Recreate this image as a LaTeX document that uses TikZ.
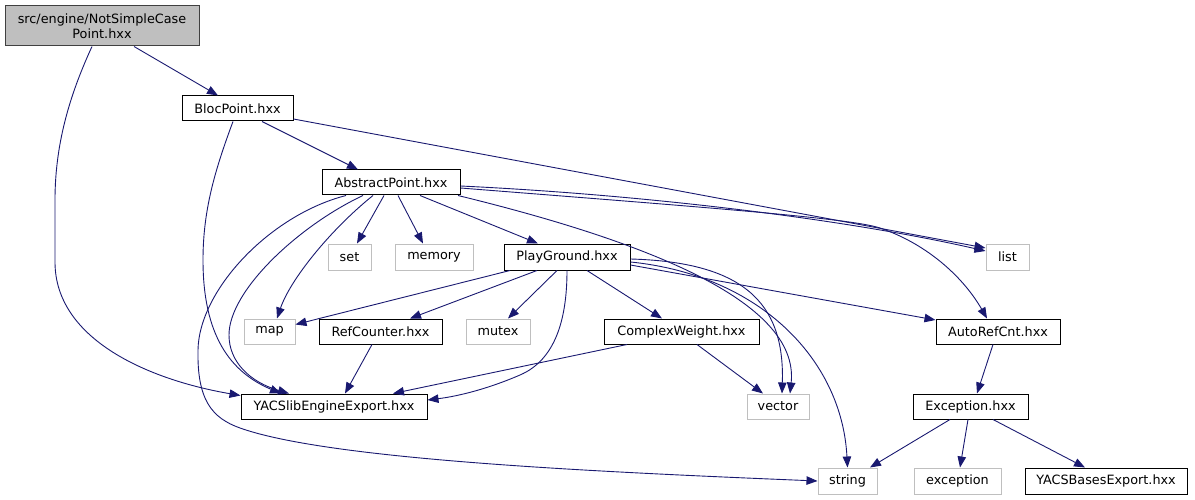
\documentclass[tikz,border=0pt]{standalone}
\usepackage{fontspec}
\setmainfont{DejaVu Sans}
\usetikzlibrary{arrows.meta}
\definecolor{edgeblue}{RGB}{25,25,112}
\definecolor{extgray}{RGB}{191,191,191}
\definecolor{rootborder}{RGB}{64,64,64}
\begin{document}
\begin{tikzpicture}[x=1pt,y=-1pt,
  box/.style={draw=black,line width=1pt,fill=white,inner sep=0pt,font=\fontsize{12.8}{14.5}\selectfont,anchor=center},
  extbox/.style={box,draw=extgray},
  rootbox/.style={box,draw=rootborder,fill=extgray,align=center},
  edge/.style={draw=edgeblue,line width=0.9pt,-{Triangle[length=11pt 0,width=8.5pt 0]}}]
\useasboundingbox (0,0) rectangle (1195,500);
% nodes
\node[rootbox,minimum width=194pt,minimum height=40pt] (nscp) at (102,26) {src/engine/NotSimpleCase\\Point.hxx};
\node[box,minimum width=111pt,minimum height=25pt] (bloc) at (237.5,108.5) {BlocPoint.hxx};
\node[box,minimum width=138pt,minimum height=25pt] (abs) at (391,182.5) {AbstractPoint.hxx};
\node[extbox,minimum width=43pt,minimum height=26pt] (set) at (349.5,257) {set};
\node[extbox,minimum width=78pt,minimum height=26pt] (memory) at (434,257) {memory};
\node[box,minimum width=126pt,minimum height=26pt] (play) at (567,257) {PlayGround.hxx};
\node[extbox,minimum width=43pt,minimum height=26pt] (list) at (1007.5,257) {list};
\node[extbox,minimum width=51pt,minimum height=25pt] (map) at (269.5,331.5) {map};
\node[box,minimum width=123pt,minimum height=25pt] (refc) at (380.5,331.5) {RefCounter.hxx};
\node[extbox,minimum width=64pt,minimum height=25pt] (mutex) at (498,331.5) {mutex};
\node[box,minimum width=155pt,minimum height=25pt] (cw) at (681.5,331.5) {ComplexWeight.hxx};
\node[box,minimum width=124pt,minimum height=25pt] (arc) at (998,331.5) {AutoRefCnt.hxx};
\node[box,minimum width=186pt,minimum height=25pt] (yacs) at (334,406.5) {YACSlibEngineExport.hxx};
\node[extbox,minimum width=62pt,minimum height=25pt] (vector) at (778,406.5) {vector};
\node[box,minimum width=115pt,minimum height=25pt] (exc) at (970.5,406.5) {Exception.hxx};
\node[extbox,minimum width=59pt,minimum height=26pt] (string) at (847.5,481) {string};
\node[extbox,minimum width=87pt,minimum height=26pt] (exception) at (957.5,481) {exception};
\node[box,minimum width=162pt,minimum height=26pt] (ybe) at (1106,481) {YACSBasesExport.hxx};
% edges
\draw[edge] ([xshift=32pt]nscp.south) -- ([xshift=-19.5pt]bloc.north);
\draw[edge] ([xshift=-10pt]nscp.south) .. controls (72,90) and (55,140) .. (55,200) -- (55,262) .. controls (55,340) and (150,380) .. ([yshift=-2pt]yacs.north west);
\draw[edge] ([xshift=24.5pt]bloc.south) -- ([xshift=-33pt]abs.north);
\draw[edge] ([xshift=-4.5pt]bloc.south) .. controls (215,170) and (203,210) .. (203,260) .. controls (203,335) and (230,372) .. ([xshift=-53pt]yacs.north);
\draw[edge] ([yshift=-10.5pt]bloc.east) -- ([yshift=9pt]list.west);
\draw[edge] ([xshift=-45pt]abs.south) .. controls (270,215) and (199,290) .. (198,350) .. controls (197,400) and (212,418) .. (240,428) .. controls (330,460) and (600,472) .. ([yshift=0pt]string.west);
\draw[edge] ([xshift=-28pt]abs.south) .. controls (300,225) and (229,290) .. (229,335) .. controls (229,362) and (250,382) .. ([xshift=-45pt]yacs.north);
\draw[edge] ([xshift=-18pt]abs.south) .. controls (330,230) and (290,280) .. ([xshift=7.5pt]map.north);
\draw[edge] ([xshift=-7pt]abs.south) -- ([xshift=7.5pt]set.north);
\draw[edge] ([xshift=7pt]abs.south) -- ([xshift=-11pt]memory.north);
\draw[edge] ([xshift=29pt]abs.south) -- ([xshift=-29pt]play.north);
\draw[edge] ([xshift=67pt]abs.south) .. controls (640,240) and (800,300) .. ([xshift=12pt]vector.north);
\draw[edge] ([yshift=-3.5pt]abs.east) .. controls (650,195) and (850,220) .. ([yshift=6pt]list.west);
\draw[edge] ([yshift=-5.5pt]abs.east) .. controls (700,207) and (850,218) .. (880,228) .. controls (930,245) and (965,280) .. ([xshift=-11pt]arc.north);
\draw[edge] ([xshift=-57pt]play.south) -- ([yshift=7pt]map.east);
\draw[edge] ([xshift=-30pt]play.south) -- ([xshift=29.5pt]refc.north);
\draw[edge] ([xshift=-10pt]play.south) -- ([xshift=10pt]mutex.north);
\draw[edge] ([xshift=20pt]play.south) -- ([xshift=-19.5pt]cw.north);
\draw[edge] (play.south) .. controls (567,320) and (555,360) .. (520,375) .. controls (490,388) and (460,396) .. ([yshift=6.5pt]yacs.east);
\draw[edge] ([yshift=-2pt]play.east) .. controls (740,262) and (785,300) .. ([xshift=4pt]vector.north);
\draw[edge] ([yshift=-5pt]play.east) .. controls (760,275) and (842,360) .. (string.north);
\draw[edge] ([yshift=-8pt]play.east) -- ([yshift=11.5pt]arc.west);
\draw[edge] ([xshift=-8.5pt]refc.south) -- ([xshift=11pt]yacs.north);
\draw[edge] ([xshift=-54.5pt]cw.south) -- ([xshift=59pt]yacs.north);
\draw[edge] ([xshift=15.5pt]cw.south) -- ([xshift=-15pt]vector.north);
\draw[edge] ([xshift=-5pt]arc.south) -- ([xshift=6.5pt]exc.north);
\draw[edge] ([xshift=-20.5pt]exc.south) -- ([xshift=22.5pt]string.north);
\draw[edge] ([xshift=-2.5pt]exc.south) -- ([xshift=2.5pt]exception.north);
\draw[edge] ([xshift=22.5pt]exc.south) -- ([xshift=-21pt]ybe.north);
\end{tikzpicture}
\end{document}
